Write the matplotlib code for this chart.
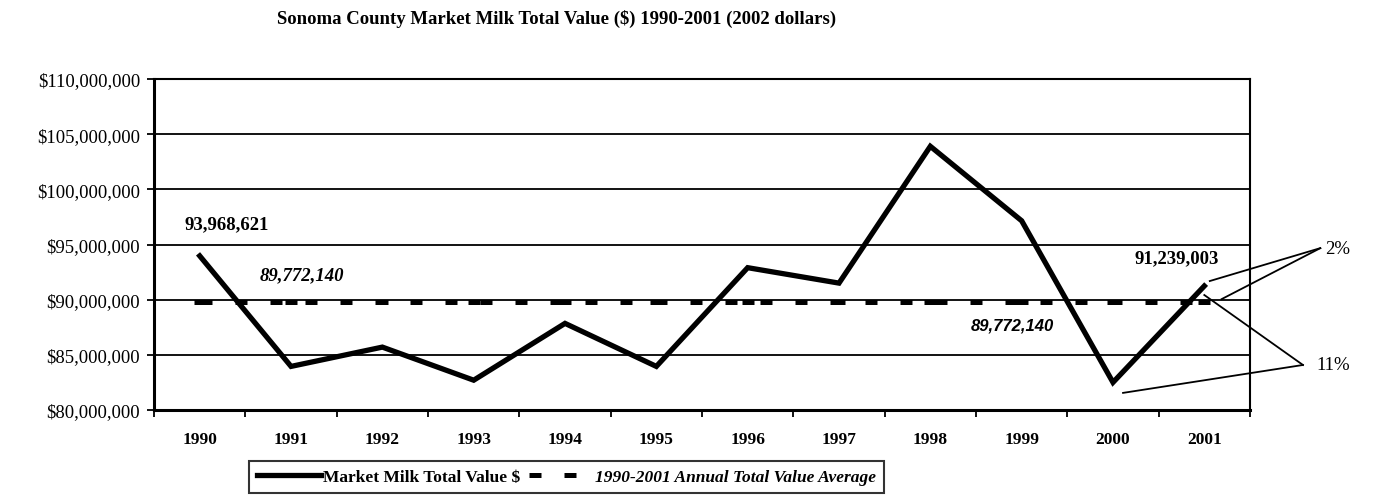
import numpy as np
import matplotlib.pyplot as plt
from matplotlib.ticker import FuncFormatter, FixedLocator

plt.rcParams['font.family'] = ['Liberation Serif', 'DejaVu Serif']

# Sonoma County market milk value, 2002 dollars
years = ['1990', '1991', '1992', '1993', '1994', '1995',
         '1996', '1997', '1998', '1999', '2000', '2001']
milk_value = [93968621, 83950000, 85700000, 82700000, 87850000, 83950000,
              92900000, 91500000, 103900000, 97150000, 82500000, 91239003]
avg_value = 89772140

x = np.arange(len(years))

fig = plt.figure(figsize=(13.73, 5.02), dpi=100)
ax = fig.add_axes([0.1122, 0.1813, 0.7982, 0.6593])

avg_dash = (0, (2.4, 4.6))

# average line (dashes plus a block at each year) then the main series
ax.plot(x, [avg_value] * len(x), color='black', lw=3.6, ls=avg_dash,
        marker='_', ms=8.5, mew=3.6, dash_capstyle='butt', zorder=3)
ax.plot(x, milk_value, color='black', lw=3.8, solid_joinstyle='miter',
        zorder=4)

ax.set_xlim(-0.5, len(years) - 0.5)
ax.set_ylim(80e6, 110e6)
ax.set_yticks(np.arange(80e6, 110e6 + 1, 5e6))
ax.yaxis.set_major_formatter(FuncFormatter(lambda v, p: '${:,.0f}'.format(v)))
ax.grid(axis='y', color='black', lw=1.3)
ax.set_axisbelow(True)

# ticks between years, labels centred on the years
ax.xaxis.set_major_locator(FixedLocator(np.arange(-0.5, len(years), 1)))
ax.xaxis.set_minor_locator(FixedLocator(x))
ax.set_xticklabels([], minor=False)
ax.set_xticklabels(years, minor=True, fontweight='bold', fontsize=12.5)
ax.tick_params(axis='x', which='major', direction='out', length=5, width=1.3)
ax.tick_params(axis='x', which='minor', length=0, pad=15)
ax.tick_params(axis='y', direction='out', length=5, width=1.3, labelsize=13.5,
               pad=5)

for side in ['left', 'bottom']:
    ax.spines[side].set_linewidth(2.2)
for side in ['top', 'right']:
    ax.spines[side].set_linewidth(1.5)

fig.text(0.405, 0.962, 'Sonoma County Market Milk Total Value ($) 1990-2001 (2002 dollars)',
         ha='center', va='center', fontsize=13.5, fontweight='bold')

# value labels
ax.text(x[0] + 0.3, milk_value[0] + 2.9e6, '{:,}'.format(milk_value[0]),
        ha='center', va='center', fontsize=13.5, fontweight='bold')
ax.text(x[1] + 0.12, avg_value + 2.5e6, '{:,}'.format(avg_value),
        ha='center', va='center', fontsize=13.5, fontweight='bold', style='italic')
ax.text(x[8] + 0.9, avg_value - 2.1e6, '{:,}'.format(avg_value),
        ha='center', va='center', fontsize=12, fontweight='bold', style='italic',
        family='Liberation Sans')
ax.text(x[11] - 0.3, milk_value[11] + 2.6e6, '{:,}'.format(milk_value[11]),
        ha='center', va='center', fontsize=13.5, fontweight='bold')

# percentage call-outs
pct_small = (milk_value[11] - avg_value) / avg_value * 100
pct_big = (milk_value[11] - milk_value[10]) / milk_value[10] * 100
lab_small = (x[11] + 1.27, 94.67e6)
lab_big = (x[11] + 1.08, 84.08e6)
ax.text(lab_small[0] + 0.05, lab_small[1], '{:.0f}%'.format(pct_small),
        ha='left', va='center', fontsize=13.5)
ax.text(lab_big[0] + 0.15, lab_big[1], '{:.0f}%'.format(pct_big),
        ha='left', va='center', fontsize=13.5)
for tip in [(x[11] + 0.06, milk_value[11] + 0.45e6), (x[11] + 0.19, avg_value + 0.28e6)]:
    ax.plot([lab_small[0], tip[0]], [lab_small[1], tip[1]], color='black',
            lw=1.3, clip_on=False)
for tip in [(x[11], avg_value + 0.65e6), (x[10] + 0.11, milk_value[10] - 0.95e6)]:
    ax.plot([lab_big[0], tip[0]], [lab_big[1], tip[1]], color='black',
            lw=1.3, clip_on=False)

# legend
h_line, = ax.plot([], [], color='black', lw=3.8)
h_avg, = ax.plot([], [], color='black', lw=3.6, ls=avg_dash)
leg = fig.legend([h_line, h_avg],
                 ['Market Milk Total Value $', '1990-2001 Annual Total Value Average'],
                 loc='center', bbox_to_anchor=(0.4125, 0.048), ncol=2,
                 frameon=True, fancybox=False, edgecolor='black',
                 handlelength=3.7, handletextpad=0.1, columnspacing=0.5,
                 borderpad=0.45, prop={'size': 12.5, 'weight': 'bold'})
leg.get_frame().set_linewidth(1.5)
leg.get_texts()[1].set_style('italic')

fig.savefig('out.png', dpi=100)
